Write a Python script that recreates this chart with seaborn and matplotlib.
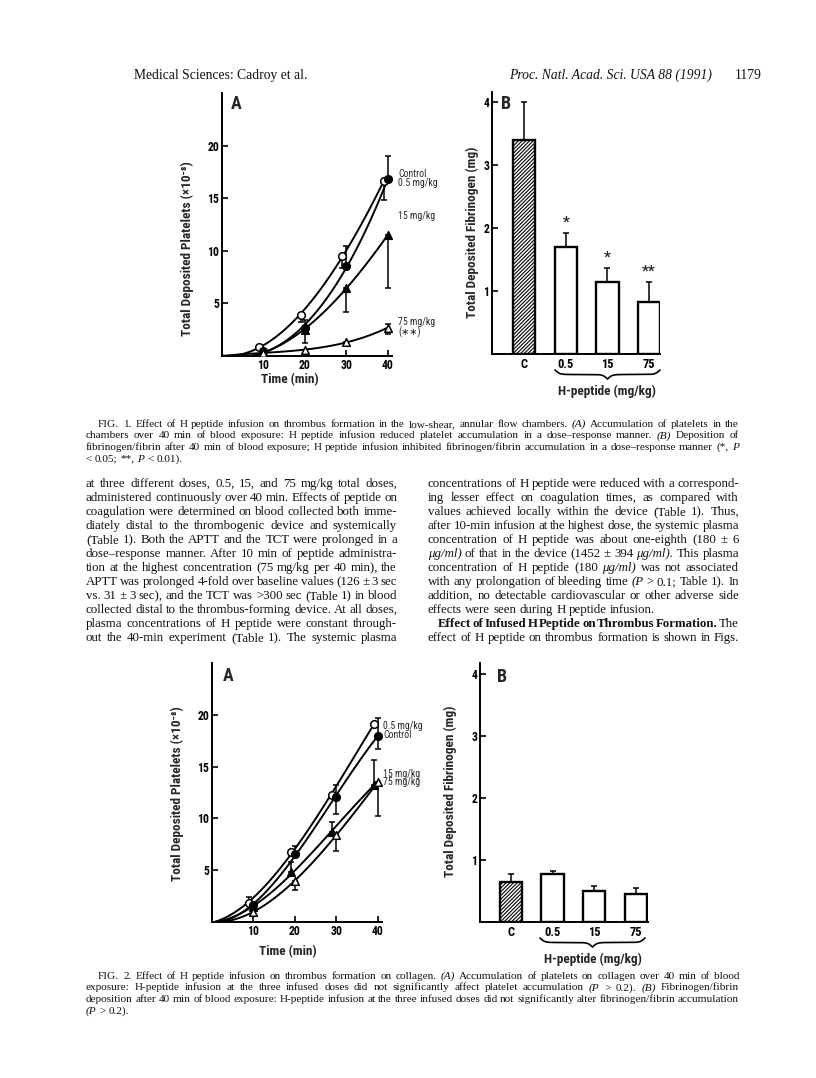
import numpy as np
import matplotlib
matplotlib.use('Agg')
import matplotlib.pyplot as plt
from matplotlib import font_manager
import seaborn as sns

# ---------------- Fig. 1A  platelets, annular chamber ----------------
f1_ctl_t = [10, 20, 30, 40]
f1_ctl_y = [0.5, 2.7, 8.6, 16.8]
f1_ctl_lo = [0, 0, 0, 0]
f1_ctl_hi = [0, 0, 1.9, 2.2]

f1_d05_t = [9, 19, 29, 39]
f1_d05_y = [0.9, 3.9, 9.5, 16.6]
f1_d05_lo = [0, 0.7, 1.1, 1.8]
f1_d05_hi = [0, 0, 0, 0]

f1_d15_t = [10, 20, 30, 40]
f1_d15_y = [0.4, 2.5, 6.5, 11.5]
f1_d15_lo = [0, 1.3, 2.3, 5.0]
f1_d15_hi = [0, 0.9, 0, 0]

f1_d75_t = [10, 20, 30, 40]
f1_d75_y = [0.3, 0.6, 1.3, 2.7]
f1_d75_lo = [0, 0, 0.3, 0.6]
f1_d75_hi = [0, 0, 0, 0.3]

# ---------------- Fig. 1B  fibrinogen ----------------
groups = ['C', '0.5', '15', '75']
f1_fib = [3.40, 1.70, 1.14, 0.83]
f1_fib_err = [0.60, 0.22, 0.23, 0.32]
f1_stars = ['', '*', '*', '**']

# ---------------- Fig. 2A  platelets, collagen ----------------
f2_d05_t = [9, 19, 29, 39]
f2_d05_y = [1.8, 6.8, 12.3, 19.1]
f2_d05_lo = [0, 0, 0, 0]
f2_d05_hi = [0.6, 0, 0, 0]

f2_ctl_t = [10, 20, 30, 40]
f2_ctl_y = [1.6, 6.6, 12.1, 18.0]
f2_ctl_lo = [0, 0, 1.7, 1.3]
f2_ctl_hi = [0, 0.7, 1.1, 1.7]

f2_d15_t = [10, 19, 29, 39]
f2_d15_y = [1.4, 4.8, 8.7, 13.2]
f2_d15_lo = [0, 0, 0, 0]
f2_d15_hi = [0, 1.0, 1.0, 2.4]

f2_d75_t = [10, 20, 30, 40]
f2_d75_y = [1.0, 4.0, 8.4, 13.5]
f2_d75_lo = [0, 0.9, 1.5, 3.3]
f2_d75_hi = [0, 0, 0, 0]

# ---------------- Fig. 2B  fibrinogen ----------------
f2_fib = [0.65, 0.77, 0.50, 0.45]
f2_fib_err = [0.12, 0.06, 0.085, 0.10]

# ---------------- page text ----------------
header_left = 'Medical Sciences: Cadroy et al.'
header_mid = 'Proc. Natl. Acad. Sci. USA 88 (1991)'
header_page = '1179'

cap1 = [
    'FIG. 1.   Effect of H peptide infusion on thrombus formation in the low-shear, annular flow chambers. ~(A) Accumulation of platelets in the',
    'chambers over 40 min of blood exposure: H peptide infusion reduced platelet accumulation in a dose\u2013response manner. ~(B) Deposition of',
    'fibrinogen/fibrin after 40 min of blood exposure; H peptide infusion inhibited fibrinogen/fibrin accumulation in a dose\u2013response manner (*, ~P',
    '< 0.05; **, ~P < 0.01).',
]
cap2 = [
    'FIG. 2.   Effect of H peptide infusion on thrombus formation on collagen. ~(A) Accumulation of platelets on collagen over 40 min of blood',
    'exposure: H-peptide infusion at the three infused doses did not significantly affect platelet accumulation (~P > 0.2). ~(B) Fibrinogen/fibrin',
    'deposition after 40 min of blood exposure: H-peptide infusion at the three infused doses did not significantly alter fibrinogen/fibrin accumulation',
    '(~P > 0.2).',
]
col_left = [
    'at three different doses, 0.5, 15, and 75 mg/kg total doses,',
    'administered continuously over 40 min. Effects of peptide on',
    'coagulation were determined on blood collected both imme-',
    'diately distal to the thrombogenic device and systemically',
    '(Table 1). Both the APTT and the TCT were prolonged in a',
    'dose\u2013response manner. After 10 min of peptide administra-',
    'tion at the highest concentration (75 mg/kg per 40 min), the',
    'APTT was prolonged 4-fold over baseline values (126 \u00b1 3 sec',
    'vs. 31 \u00b1 3 sec), and the TCT was >300 sec (Table 1) in blood',
    'collected distal to the thrombus-forming device. At all doses,',
    'plasma concentrations of H peptide were constant through-',
    'out the 40-min experiment (Table 1). The systemic plasma',
]
col_right = [
    'concentrations of H peptide were reduced with a correspond-',
    'ing lesser effect on coagulation times, as compared with',
    'values achieved locally within the device (Table 1). Thus,',
    'after 10-min infusion at the highest dose, the systemic plasma',
    'concentration of H peptide was about one-eighth (180 \u00b1 6',
    '~\u03bcg/ml) of that in the device (1452 \u00b1 394 ~\u03bcg/ml). This plasma',
    'concentration of H peptide (180 ~\u03bcg/ml) was not associated',
    'with any prolongation of bleeding time (~P > 0.1; Table 1). In',
    'addition, no detectable cardiovascular or other adverse side',
    'effects were seen during H peptide infusion.',
    '^Effect ^of ^Infused ^H ^Peptide ^on ^Thrombus ^Formation. The',
    'effect of H peptide on thrombus formation is shown in Figs.',
]

# ---------------- fonts / canvas ----------------
sns.set_theme(style='white')
installed = {f.name for f in font_manager.fontManager.ttflist}
NARROW = [n for n in ['Liberation Sans Narrow', 'Roboto Condensed'] if n in installed] + ['DejaVu Sans']
SERIF = ['Liberation Serif', 'DejaVu Serif']
plt.rcParams['font.family'] = NARROW
plt.rcParams['hatch.linewidth'] = 0.8

W, H = 816, 1078
fig = plt.figure(figsize=(W / 100, H / 100), dpi=100)
fig.patch.set_facecolor('white')


def box(l, t, r, b):
    return [l / W, 1 - b / H, (r - l) / W, (b - t) / H]


def ptext(x, y, s, **kw):
    return fig.text(x / W, 1 - y / H, s, **kw)


def axis_style(ax):
    sns.despine(ax=ax)
    for s in ['left', 'bottom']:
        ax.spines[s].set_color('black')
        ax.spines[s].set_linewidth(1.4)
    ax.tick_params(direction='in', length=4, width=1.2, colors='black',
                   labelsize=8.5, pad=2, left=True, bottom=True)
    for lab in ax.get_xticklabels() + ax.get_yticklabels():
        lab.set_fontfamily(NARROW)
        lab.set_fontweight('bold')
    ax.set_xlabel('')
    ax.set_ylabel('')
    ax.set_facecolor('white')


def curve(ax, t, y, lo, hi, marker, filled):
    # smooth hand-drawn style line through origin and the means
    sns.regplot(x=np.array([0] + t), y=np.array([0] + y), order=3, ci=None,
                scatter=False, truncate=True, color='black',
                line_kws=dict(lw=1.4, zorder=2), ax=ax)
    t, y, lo, hi = map(np.array, (t, y, lo, hi))
    m = (lo + hi) > 0
    ax.errorbar(t[m], y[m], yerr=[lo[m], hi[m]], fmt='none', ecolor='black',
                elinewidth=1.1, capsize=2.5, capthick=1.1, zorder=3)
    sns.scatterplot(x=t, y=y, marker=marker, s=30,
                    color='black' if filled else 'white',
                    edgecolor='black', linewidth=1.1, zorder=4, ax=ax)


def platelet_panel(ax, series):
    for s in series:
        curve(ax, *s)
    ax.set_xlim(0, 41)
    ax.set_ylim(0, 25)
    ax.set_xticks([10, 20, 30, 40])
    ax.set_yticks([5, 10, 15, 20])
    axis_style(ax)


def fib_panel(ax, vals, err, xl):
    sns.barplot(x=groups, y=vals, color='white', saturation=1, edgecolor='black',
                linewidth=1.7, width=0.53, ax=ax)
    ax.patches[0].set_hatch('/////////')
    ax.errorbar(range(len(vals)), vals, yerr=[[0] * len(vals), err], fmt='none',
                ecolor='black', elinewidth=1.1, capsize=2.5, capthick=1.1, zorder=3)
    ax.set_xlim(*xl)
    ax.set_yticks([1, 2, 3, 4])
    axis_style(ax)
    ax.tick_params(axis='x', length=0, pad=3, labelsize=9)


def brace(x0, x1, top, h):
    u = np.linspace(0, 0.5, 120)
    half = 1 / (1 + np.exp(-45 * (u - u[0]))) + 1 / (1 + np.exp(-45 * (u - u[-1])))
    yy = np.concatenate([half, half[-2::-1]])
    xs = np.linspace(x0, x1, len(yy))
    ys = top + (yy - 0.5) * h
    fig.add_artist(plt.Line2D(xs / W, 1 - ys / H, color='black', lw=1.2,
                              transform=fig.transFigure))


LAB = dict(fontsize=9.5, fontweight='bold', ha='center', va='center')

# ---------------- Fig. 1 ----------------
ax1 = fig.add_axes(box(222, 93, 392, 356))
platelet_panel(ax1, [
    (f1_d05_t, f1_d05_y, f1_d05_lo, f1_d05_hi, 'o', False),
    (f1_ctl_t, f1_ctl_y, f1_ctl_lo, f1_ctl_hi, 'o', True),
    (f1_d15_t, f1_d15_y, f1_d15_lo, f1_d15_hi, '^', True),
    (f1_d75_t, f1_d75_y, f1_d75_lo, f1_d75_hi, '^', False),
])
ptext(231, 104, 'A', fontsize=13, fontweight='bold', va='center')
ptext(187, 249, 'Total Deposited Platelets (\u00d710\u207b\u2078)', rotation=90, **LAB)
ptext(290, 380, 'Time (min)', **LAB)
for y, s in [(174, 'Control'), (183, '0.5 mg/kg'), (216, '15 mg/kg'),
             (322, '75 mg/kg'), (332, '(\u2217\u2217)')]:
    ptext(398, y, s, fontsize=7, ha='left', va='center')

ax2 = fig.add_axes(box(492, 92, 660, 354))
fib_panel(ax2, f1_fib, f1_fib_err, (-0.77, 3.26))
ax2.set_ylim(0, 4.16)
for i, s in enumerate(f1_stars):
    if s:
        ax2.text(i, f1_fib[i] + f1_fib_err[i] + 0.05, s, ha='center', va='bottom',
                 fontsize=11, fontweight='bold')
ptext(501, 104, 'B', fontsize=13, fontweight='bold', va='center')
ptext(472, 232, 'Total Deposited Fibrinogen (mg)', rotation=90, **LAB)
brace(555, 660, 370, 9)
ptext(607, 391, 'H-peptide (mg/kg)', **LAB)

# ---------------- Fig. 2 ----------------
ax3 = fig.add_axes(box(212, 663, 382, 922))
platelet_panel(ax3, [
    (f2_d05_t, f2_d05_y, f2_d05_lo, f2_d05_hi, 'o', False),
    (f2_ctl_t, f2_ctl_y, f2_ctl_lo, f2_ctl_hi, 'o', True),
    (f2_d15_t, f2_d15_y, f2_d15_lo, f2_d15_hi, '^', True),
    (f2_d75_t, f2_d75_y, f2_d75_lo, f2_d75_hi, '^', False),
])
ptext(223, 676, 'A', fontsize=13, fontweight='bold', va='center')
ptext(177, 794, 'Total Deposited Platelets (\u00d710\u207b\u2078)', rotation=90, **LAB)
ptext(288, 952, 'Time (min)', **LAB)
for y, s in [(726, '0.5 mg/kg'), (735, 'Control'), (774, '15 mg/kg'), (782, '75 mg/kg')]:
    ptext(383, y, s, fontsize=7, ha='left', va='center')

ax4 = fig.add_axes(box(480, 663, 648, 922))
fib_panel(ax4, f2_fib, f2_fib_err, (-0.74, 3.29))
ax4.set_ylim(0, 4.18)
ptext(497, 677, 'B', fontsize=13, fontweight='bold', va='center')
ptext(450, 791, 'Total Deposited Fibrinogen (mg)', rotation=90, **LAB)
brace(540, 645, 938, 9)
ptext(593, 959, 'H-peptide (mg/kg)', **LAB)

# ---------------- page text ----------------
renderer = fig.canvas.get_renderer()


def para(lines, x0, x1, base0, dy, size, ragged=(), indent=None):
    indent = indent or {}
    for i, line in enumerate(lines):
        yb = base0 + i * dy
        arts = []
        for w in line.split():
            kw = dict(fontsize=size, family=SERIF, va='baseline', ha='left', color='#111111')
            if '^' in w:
                w = w.replace('^', '')
                kw['fontweight'] = 'bold'
            if '~' in w:
                w = w.replace('~', '')
                kw['fontstyle'] = 'italic'
            arts.append(ptext(0, yb, w, **kw))
        widths = [a.get_window_extent(renderer).width for a in arts]
        left = x0 + indent.get(i, 0)
        if i in ragged or len(arts) < 2:
            gap = size * 0.25 * 100 / 72
        else:
            gap = (x1 - left - sum(widths)) / (len(arts) - 1)
        x = left
        for a, w in zip(arts, widths):
            a.set_x(x / W)
            x += w + gap


HDR = dict(fontsize=9.8, family=SERIF, va='baseline', color='#111111')
ptext(134, 79, header_left, **HDR)
ptext(712, 79, header_mid, style='italic', ha='right', **HDR)
ptext(762, 79, header_page, ha='right', **HDR)

para(cap1, 86, 739, 427, 11.5, 8.1, ragged=(3,), indent={0: 12})
para(cap2, 86, 739, 979, 11.5, 8.1, ragged=(3,), indent={0: 12})
para(col_left, 86, 397, 487, 14, 9.3)
para(col_right, 428, 739, 487, 14, 9.3, ragged=(9,), indent={10: 10})

fig.savefig('out.png', dpi=100, facecolor='white')
